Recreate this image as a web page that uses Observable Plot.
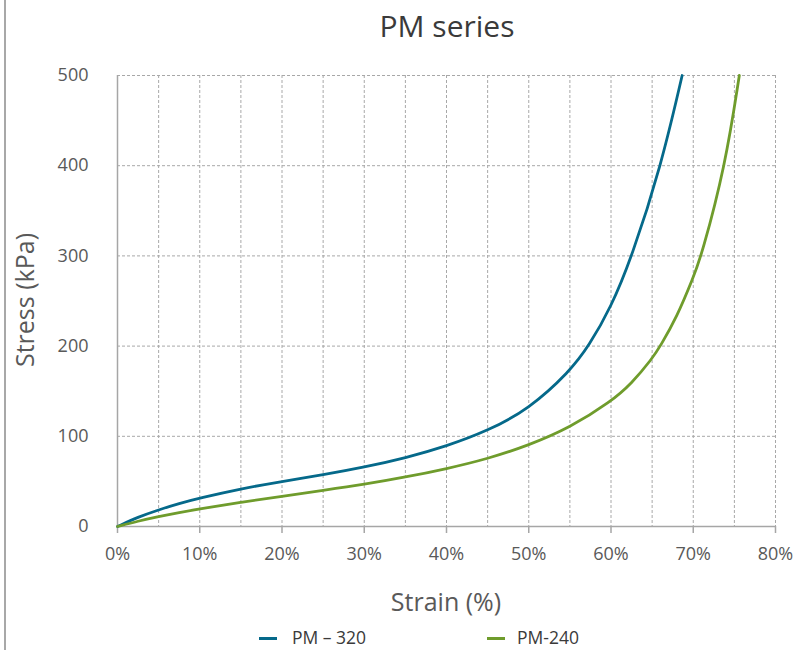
<!DOCTYPE html>
<html><head><meta charset="utf-8">
<script src="https://cdn.jsdelivr.net/npm/d3@7"></script>
<script src="https://cdn.jsdelivr.net/npm/@observablehq/plot@0.6"></script>
<style>
html,body{margin:0;padding:0;background:#fff;}
#wrap{position:relative;width:794px;height:650px;overflow:hidden;font-family:"Open Sans","Noto Sans",sans-serif;color:#595959;}
#border{position:absolute;left:4px;top:0;width:1.5px;height:650px;background:#a8a8a8;}
#chart{position:absolute;left:0;top:0;}
#title{position:absolute;left:0;width:894px;top:8px;text-align:center;font-size:30px;line-height:36px;color:#3a3a3a;}
#xlabel{position:absolute;left:117px;width:658px;top:585px;text-align:center;font-size:25px;line-height:32px;}
#ylabel{position:absolute;left:24px;top:300px;font-size:25px;line-height:32px;white-space:nowrap;transform:translate(-50%,-50%) rotate(-90deg);}
.leg{position:absolute;top:628px;font-size:17.5px;line-height:18px;color:#3a3a3a;white-space:nowrap;}
.sw{position:absolute;top:637px;height:3px;width:18px;}
</style></head><body>
<div id="wrap">
  <div id="border"></div>
  <div id="chart"></div>
  <div id="title">PM series</div>
  <div id="ylabel">Stress (kPa)</div>
  <div id="xlabel">Strain (%)</div>
  <div class="sw" id="sw1" style="left:259px;"></div>
  <div class="leg" id="lg1" style="left:292px;"></div>
  <div class="sw" id="sw2" style="left:487px;"></div>
  <div class="leg" id="lg2" style="left:517px;"></div>
</div>
<script>
const seriesNames = ["PM – 320", "PM-240"];
const seriesColors = ["#05698a", "#6f9c2c"];

const strain320 = [0, 2.5, 5, 7.5, 10, 15, 20, 25, 30, 35, 40, 45, 50, 55, 57.3, 60, 62.5, 66.1, 68.65];
const stress320 = [0, 10.5, 18.5, 25.5, 31.5, 41.8, 50, 57.3, 65.8, 76, 89, 106, 130, 172, 200, 243, 298, 400, 500];

const strain240 = [0, 2.5, 5, 7.5, 10, 15, 20, 25, 30, 35, 40, 45, 50, 55, 60, 62.5, 65, 66, 68, 70, 71, 73.9, 75.6];
const stress240 = [0, 6, 11, 15.5, 19.6, 27, 33.5, 40, 46.6, 54.7, 64, 75, 90, 109.5, 138.5, 158.5, 186, 200, 232, 276, 300, 400, 500];

const xTicks = [0, 10, 20, 30, 40, 50, 60, 70, 80];
const yTicks = [0, 100, 200, 300, 400, 500];
const xGridLines = [5, 10, 15, 20, 25, 30, 35, 40, 45, 50, 55, 60, 65, 70, 75, 80];
const yGridLines = [100, 200, 300, 400, 500];

const rows = [
  ...strain320.map((s, i) => ({series: seriesNames[0], strain: s, stress: stress320[i]})),
  ...strain240.map((s, i) => ({series: seriesNames[1], strain: s, stress: stress240[i]}))
];

const chart = Plot.plot({
  width: 794,
  height: 650,
  marginTop: 75,
  marginBottom: 124,
  marginLeft: 117,
  marginRight: 19,
  style: {fontFamily: "'Open Sans', 'Noto Sans', sans-serif", fontSize: "18px", color: "#595959", background: "transparent", overflow: "visible"},
  x: {domain: [0, 80]},
  y: {domain: [0, 500]},
  color: {domain: seriesNames, range: seriesColors},
  marks: [
    Plot.gridX(xGridLines, {stroke: "#a8a8a8", strokeOpacity: 1, strokeDasharray: "3,2", strokeWidth: 1}),
    Plot.gridY(yGridLines, {stroke: "#a8a8a8", strokeOpacity: 1, strokeDasharray: "3,2", strokeWidth: 1}),
    Plot.ruleX([0], {stroke: "#a6a6a6", strokeWidth: 1.5}),
    Plot.ruleY([0], {stroke: "#a6a6a6", strokeWidth: 1.5}),
    Plot.axisX(xTicks, {tickSize: 7, tickPadding: 14, stroke: "#a6a6a6", strokeWidth: 1.5, fill: "#595959", tickFormat: d => d + "%", label: null}),
    Plot.axisY(yTicks, {tickSize: 0, tickPadding: 29, fill: "#595959", label: null}),
    Plot.line(rows, {x: "strain", y: "stress", z: "series", stroke: "series", strokeWidth: 2.8, curve: "basis"})
  ]
});
document.getElementById("chart").appendChild(chart);

document.getElementById("sw1").style.background = seriesColors[0];
document.getElementById("sw2").style.background = seriesColors[1];
document.getElementById("lg1").textContent = seriesNames[0];
document.getElementById("lg2").textContent = seriesNames[1];
</script>
</body></html>
